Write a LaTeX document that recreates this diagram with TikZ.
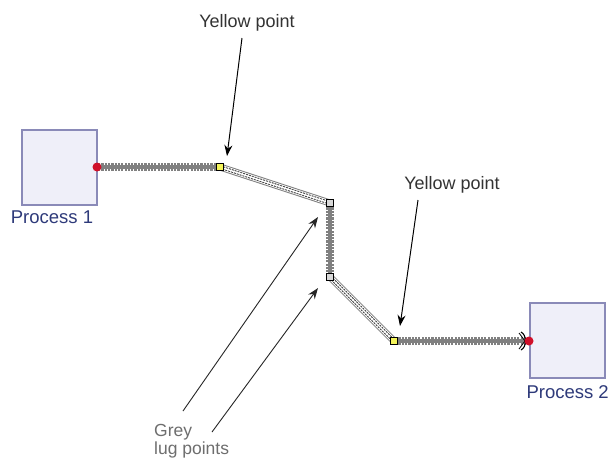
\documentclass[tikz,border=0pt]{standalone}
\usepackage{fontspec}
\setmainfont{Liberation Sans}
\usetikzlibrary{arrows.meta}
\definecolor{procfill}{HTML}{EFEFF9}
\definecolor{procdraw}{HTML}{8A8AB8}
\definecolor{proctext}{HTML}{2E3A7A}
\definecolor{dotred}{HTML}{D0102A}
\definecolor{ptyellow}{HTML}{F4F45A}
\definecolor{ptgrey}{HTML}{D8D8D8}
\definecolor{zip}{HTML}{808080}
\definecolor{labeltext}{HTML}{333333}
\definecolor{greytext}{HTML}{6E6E6E}
\tikzset{
  proc/.style={draw=procdraw, line width=1.6pt, fill=procfill, minimum width=75pt, minimum height=75pt, inner sep=0pt},
  reddot/.style={circle, fill=dotred, minimum size=9pt, inner sep=0pt},
  yellowpt/.style={draw=black, line width=0.8pt, fill=ptyellow, minimum size=7.5pt, inner sep=0pt},
  greypt/.style={draw=black, line width=0.8pt, fill=ptgrey, minimum size=7.5pt, inner sep=0pt},
  lbl/.style={text=labeltext, font=\fontsize{18}{21}\selectfont, inner sep=0pt},
  plbl/.style={text=proctext, font=\fontsize{18.5}{21}\selectfont, inner sep=0pt},
  glbl/.style={text=greytext, font=\fontsize{17.5}{18.5}\selectfont, inner sep=0pt, align=left},
  pointer/.style={draw=black, line width=1pt, -{Stealth[length=11pt,width=8pt]}},
  gpointer/.style={draw=black!85, line width=0.9pt, -{Stealth[length=11pt,width=8pt]}},
}
\newcommand{\ladder}[2]{%
  \draw[zip, line width=7.5pt] (#1) -- (#2);
  \draw[white, line width=7.7pt, dash pattern=on 1.1pt off 2.2pt] (#1) -- (#2);
  \draw[zip, line width=3.6pt] (#1) -- (#2);
}
\newcommand{\dblzip}[2]{%
  \draw[zip, line width=7pt] (#1) -- (#2);
  \draw[white, line width=5pt] (#1) -- (#2);
  \draw[black!75, line width=3.4pt, dash pattern=on 2pt off 1pt] (#1) -- (#2);
  \draw[white, line width=1.4pt] (#1) -- (#2);
}
\begin{document}
\begin{tikzpicture}[x=1pt, y=-1pt]
\useasboundingbox (0,0) rectangle (610,459);
\fill[white] (0,0) rectangle (610,459);

% process boxes
\node[proc] (p1) at (59.5,167.5) {};
\node[proc] (p2) at (567.5,340.5) {};
\node[plbl] (p1l) at (52,217) {Process 1};
\node[plbl, anchor=east] (p2l) at (609,392) {Process 2};

% connection points
\coordinate (s) at (97,167);
\coordinate (y1c) at (220,167);
\coordinate (g1c) at (330,203);
\coordinate (g2c) at (330,277);
\coordinate (y2c) at (394,341);
\coordinate (e) at (526,341);

% connector segments
\ladder{s}{y1c}
\dblzip{y1c}{g1c}
\ladder{g1c}{g2c}
\dblzip{g2c}{y2c}
\ladder{y2c}{e}

% end tip (open arc)
\draw[black, line width=1.1pt] (521,332) .. controls (527,335) and (527,347) .. (521,350);
\draw[black, line width=0.8pt] (519,333) -- (525,341) -- (519,349);

% points
\node[reddot] (d1) at (s) {};
\node[reddot] (d2) at (529,341) {};
\node[yellowpt] (y1) at (y1c) {};
\node[greypt] (g1) at (g1c) {};
\node[greypt] (g2) at (g2c) {};
\node[yellowpt] (y2) at (y2c) {};

% labels and pointers
\node[lbl] (ly1) at (247,23) {Yellow point};
\node[lbl] (ly2) at (452,185) {Yellow point};
\coordinate (ly1s) at (242,38);
\coordinate (ly2s) at (418,200);
\draw[pointer] (ly1s) -- (227,156);
\draw[pointer] (ly2s) -- (400,326);

\node[glbl, anchor=north west] (lg) at (154,424) {Grey\\lug points};
\coordinate (lg1s) at (183,411);
\coordinate (lg2s) at (212,432);
\draw[gpointer] (lg1s) -- (318,217);
\draw[gpointer] (lg2s) -- (318,288);
\end{tikzpicture}
\end{document}
